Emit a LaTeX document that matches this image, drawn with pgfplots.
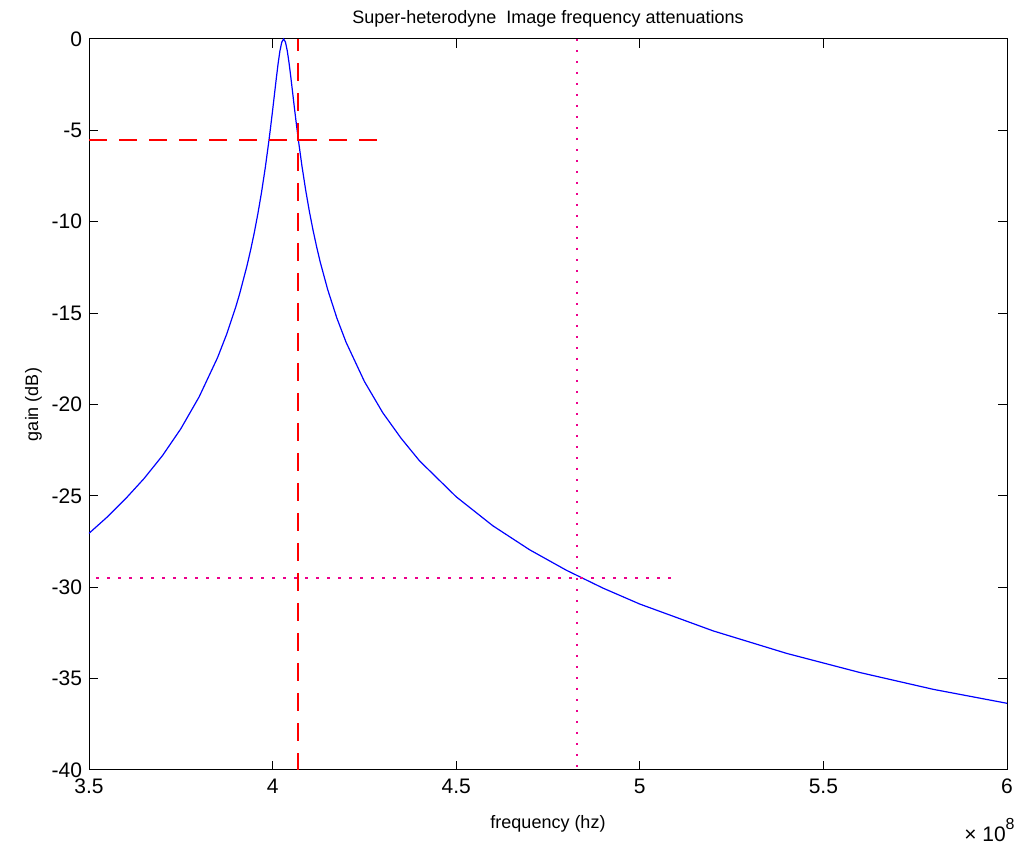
\documentclass[border=0pt]{standalone}
\usepackage{fontspec}
\setmainfont{Liberation Sans}
\usepackage{pgfplots}
\pgfplotsset{compat=1.18}
\begin{document}
\begin{tikzpicture}
\begin{axis}[
  at={(0,0)}, anchor=south west,
  scale only axis, width=459pt, height=365.5pt,
  xmin=3.5, xmax=6, ymin=-40, ymax=0,
  xtick={3.5,4,4.5,5,5.5,6},
  xticklabels={3.5,4,4.5,5,5.5,6},
  ytick={-40,-35,-30,-25,-20,-15,-10,-5,0},
  yticklabels={-40,-35,-30,-25,-20,-15,-10,-5,0},
  tick align=inside, major tick length=4.5pt,
  tick style={black, line width=0.5pt},
  axis line style={black, line width=0.5pt},
  /pgf/number format/assume math mode=true,
  ticklabel style={font=\fontsize{10.5}{12}\selectfont},
  xticklabel style={yshift=-1pt},
  title={Super-heterodyne\ \ Image frequency attenuations},
  title style={font=\fontsize{9}{11}\selectfont, yshift=-3.5pt},
  xlabel={frequency (hz)},
  ylabel={gain (dB)},
  xlabel style={font=\fontsize{9}{11}\selectfont, yshift=-4pt},
  ylabel style={font=\fontsize{9}{11}\selectfont, yshift=-2pt},
  clip=false,
]
\addplot[blue, line width=0.6pt] coordinates {
(3.50,-27.05) (3.55,-26.15) (3.60,-25.15) (3.65,-24.05) (3.70,-22.80)
(3.75,-21.33) (3.80,-19.58) (3.85,-17.44) (3.875,-16.15) (3.90,-14.64) (3.91,-13.96)
(3.93,-12.43) (3.94,-11.56) (3.95,-10.61) (3.96,-9.55) (3.97,-8.37) (3.98,-7.05)
(3.99,-5.56) (3.995,-4.75) (4.00,-3.91) (4.005,-3.04) (4.01,-2.17) (4.015,-1.35)
(4.02,-0.65) (4.025,-0.17) (4.03,0) (4.035,-0.17) (4.04,-0.65) (4.045,-1.34)
(4.05,-2.15) (4.055,-3.01) (4.06,-3.87) (4.065,-4.70)
(4.07,-5.50) (4.08,-6.96) (4.09,-8.26) (4.10,-9.42) (4.11,-10.45) (4.12,-11.38)
(4.13,-12.23) (4.15,-13.71) (4.175,-15.27)
(4.20,-16.59) (4.25,-18.74) (4.30,-20.45) (4.35,-21.85) (4.40,-23.08) (4.50,-25.05)
(4.60,-26.64) (4.70,-27.95) (4.80,-29.07) (4.90,-30.05) (5.00,-30.92)
(5.20,-32.39) (5.40,-33.62) (5.60,-34.67) (5.80,-35.59) (6.00,-36.35)
};
\addplot[red, line width=1pt, dash pattern=on 9pt off 6pt] coordinates {(3.5,-5.55) (4.31,-5.55)};
\addplot[red, line width=1pt, dash pattern=on 9pt off 6pt, dash phase=3pt] coordinates {(4.07,0) (4.07,-40)};
\addplot[magenta, line width=1.1pt, dash pattern=on 1.1pt off 4.4pt] coordinates {(3.52,-29.5) (5.09,-29.5)};
\addplot[magenta, line width=1.1pt, dash pattern=on 1.1pt off 4.4pt] coordinates {(4.83,0) (4.83,-40)};
\node[anchor=base east, font=\fontsize{10.5}{12}\selectfont, inner sep=0pt] at (rel axis cs:1,0) [yshift=-36pt, xshift=4pt] {× 10\raisebox{6pt}{\fontsize{8}{9}\selectfont 8}};
\end{axis}
\pgfresetboundingbox
\path (-44.5pt,-40pt) rectangle (464.5pt,385pt);
\end{tikzpicture}
\end{document}
